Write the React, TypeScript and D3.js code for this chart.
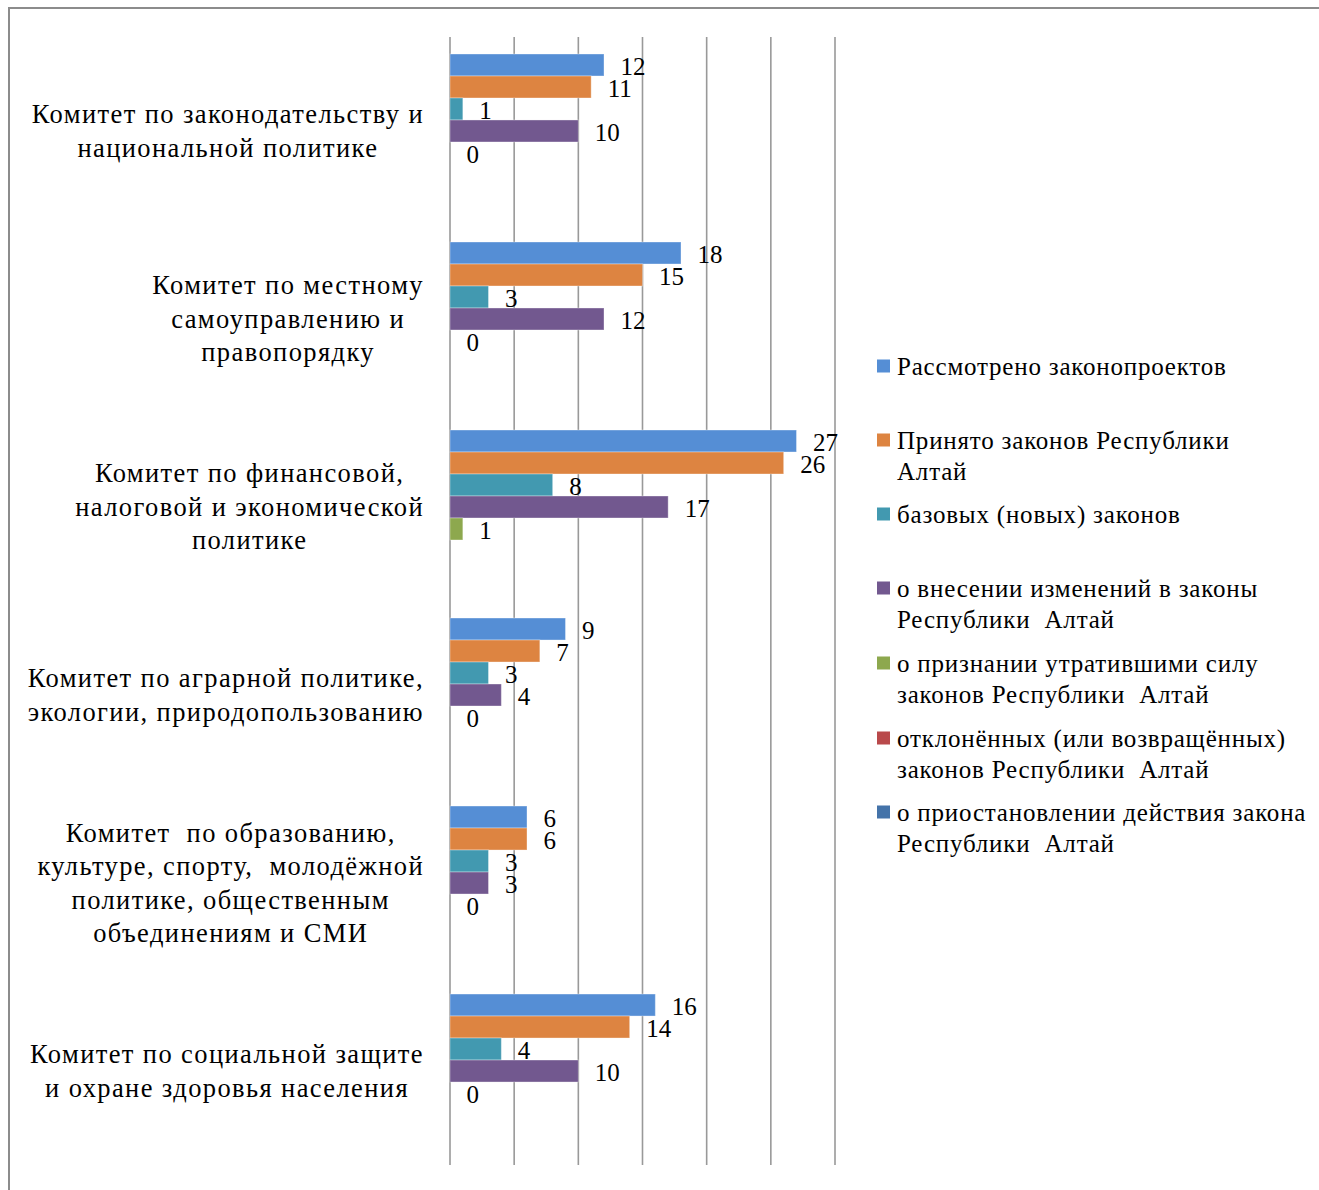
import React, { useLayoutEffect, useRef, useState } from "react";
import * as d3 from "d3";

const categories: string[][] = [
  ["Комитет по законодательству и", "национальной политике"],
  ["Комитет по местному", "самоуправлению и", "правопорядку"],
  ["Комитет по финансовой,", "налоговой и экономической", "политике"],
  ["Комитет по аграрной политике,", "экологии, природопользованию"],
  ["Комитет  по образованию,", "культуре, спорту,  молодёжной", "политике, общественным", "объединениям и СМИ"],
  ["Комитет по социальной защите", "и охране здоровья населения"],
];

const seriesNames: string[][] = [
  ["Рассмотрено законопроектов"],
  ["Принято законов Республики", "Алтай"],
  ["базовых (новых) законов"],
  ["о внесении изменений в законы", "Республики  Алтай"],
  ["о признании утратившими силу", "законов Республики  Алтай"],
  ["отклонённых (или возвращённых)", "законов Республики  Алтай"],
  ["о приостановлении действия закона", "Республики  Алтай"],
];

const seriesColors = ["#558ED5", "#DD8441", "#4299B0", "#72588F", "#8DA84E", "#B9494B", "#4473A9"];

const reviewed = [12, 18, 27, 9, 6, 16];
const adopted = [11, 15, 26, 7, 6, 14];
const basic = [1, 3, 8, 3, 3, 4];
const amendments = [10, 12, 17, 4, 3, 10];
const repealed = [0, 0, 1, 0, 0, 0];
const rejected: (number | null)[] = [null, null, null, null, null, null];
const suspended: (number | null)[] = [null, null, null, null, null, null];

const seriesValues: (number | null)[][] = [reviewed, adopted, basic, amendments, repealed, rejected, suspended];

const xTicks = [0, 5, 10, 15, 20, 25, 30];

const FONT = "'Liberation Serif', 'Times New Roman', serif";
const FS = 25;

function CategoryLabel({ lines, cy, right }: { lines: string[]; cy: number; right: number }) {
  const ref = useRef<SVGTextElement>(null);
  const [w, setW] = useState(0);
  useLayoutEffect(() => {
    if (!ref.current) return;
    let m = 0;
    ref.current.querySelectorAll("tspan").forEach((t) => {
      m = Math.max(m, (t as SVGTextContentElement).getComputedTextLength());
    });
    setW(m);
  }, [lines]);
  const lh = 33.5;
  const cx = right - w / 2;
  const y0 = cy - ((lines.length - 1) * lh) / 2;
  return (
    <text
      ref={ref}
      textAnchor="middle"
      fontFamily={FONT}
      fontSize={26.5}
      letterSpacing={1.4}
      fill="#000"
      dominantBaseline="central"
      style={{ whiteSpace: "pre" }}
    >
      {lines.map((l, i) => (
        <tspan key={i} x={cx} y={y0 + i * lh}>
          {l}
        </tspan>
      ))}
    </text>
  );
}

export default function App() {
  const W = 1319;
  const H = 1190;
  const x = d3.scaleLinear().domain([0, 30]).range([450, 835]);
  const y0 = d3
    .scaleBand<number>()
    .domain(d3.range(categories.length))
    .range([37, 1165])
    .paddingInner(0.181)
    .paddingOuter(0.0904);
  const y1 = d3.scaleBand<number>().domain(d3.range(seriesNames.length)).range([0, y0.bandwidth()]);

  const legendStarts = [366, 440, 514, 588, 663, 738, 812];

  return (
    <svg width={W} height={H} style={{ position: "absolute", left: 0, top: 0, background: "#fff" }}>
      <rect x={9} y={8} width={W + 20} height={H + 20} fill="#fff" stroke="#8c8c8c" strokeWidth={2} />
      {xTicks.map((t) => (
        <line key={t} x1={x(t)} x2={x(t)} y1={37} y2={1165} stroke="#999" strokeWidth={1.6} />
      ))}
      {categories.map((c, ci) => (
        <g key={ci}>
          {seriesValues.map((vals, si) => {
            const v = vals[ci];
            if (v == null) return null;
            const yy = (y0(ci) as number) + (y1(si) as number);
            const h = y1.bandwidth();
            return (
              <g key={si}>
                {v > 0 && (
                  <rect x={x(0)} y={yy} width={x(v) - x(0)} height={h} fill={seriesColors[si]} stroke="rgba(255,255,255,0.35)" strokeWidth={1} />
                )}
                <text x={x(v) + 16.5} y={yy + h / 2 + 1.5} dominantBaseline="central" fontFamily={FONT} fontSize={FS} fill="#000">
                  {v}
                </text>
              </g>
            );
          })}
          <CategoryLabel lines={c} cy={(y0(ci) as number) + y0.bandwidth() / 2} right={424} />
        </g>
      ))}
      {seriesNames.map((lines, si) => (
        <g key={si}>
          <rect x={877} y={legendStarts[si] - 6.5} width={13} height={13} fill={seriesColors[si]} />
          <text fontFamily={FONT} fontSize={FS} letterSpacing={0.8} fill="#000" dominantBaseline="central" style={{ whiteSpace: "pre" }}>
            {lines.map((l, i) => (
              <tspan key={i} x={897} y={legendStarts[si] + i * 30.5}>
                {l}
              </tspan>
            ))}
          </text>
        </g>
      ))}
    </svg>
  );
}
